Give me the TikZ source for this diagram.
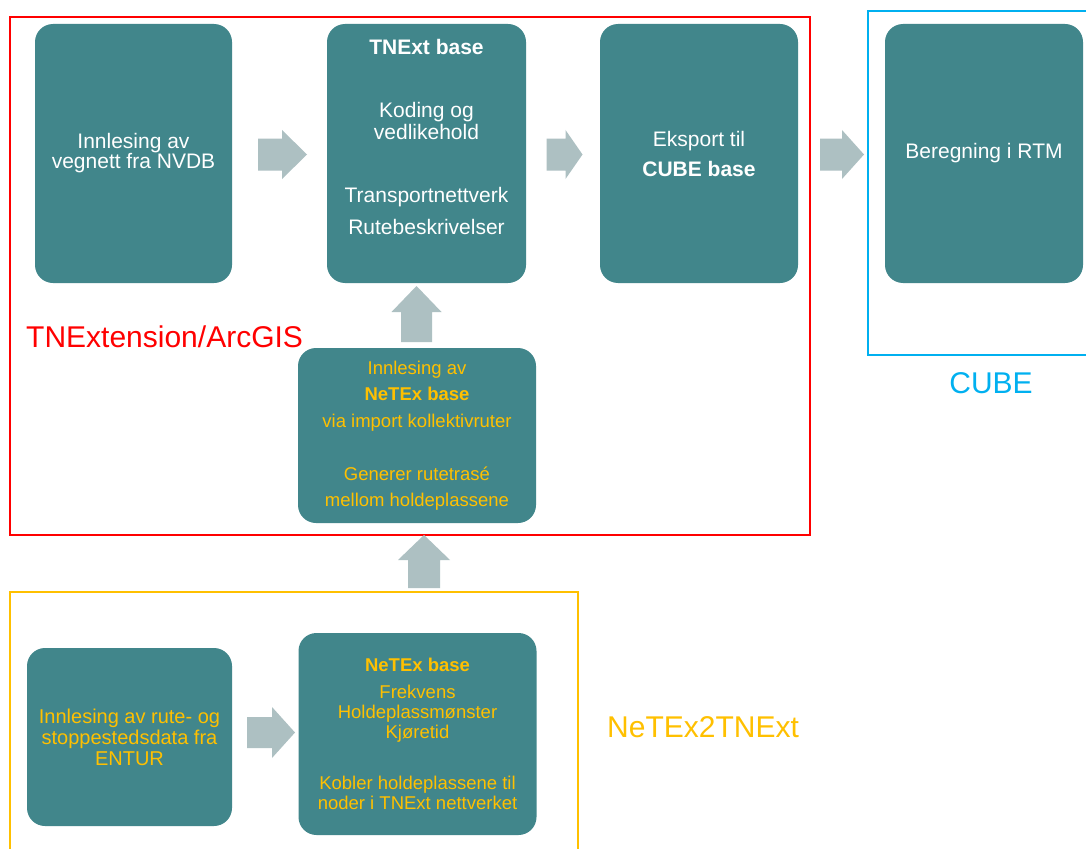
\documentclass[tikz,border=0pt]{standalone}
\usepackage{fontspec}
\setmainfont{Liberation Sans}
\definecolor{teal1}{HTML}{41868B}
\definecolor{agray}{HTML}{ADC0C2}
\definecolor{fred}{HTML}{FF0000}
\definecolor{fblue}{HTML}{00B0F0}
\definecolor{fyellow}{HTML}{FFC000}
\tikzset{
  box/.style={draw=none, fill=teal1, rounded corners=18pt, inner sep=0pt, align=center, text=white},
  ybox/.style={box, text=fyellow},
  frame/.style={line width=2.6pt},
  biglabel/.style={font=\fontsize{30}{32}\selectfont, inner sep=0pt},
}
% block arrow: #1 centre, #2 rotation, #3 length, #4 head length, #5 head width, #6 shaft width
\newcommand\blockarrow[6]{%
  \begin{scope}[shift={#1}, rotate=#2]
    \fill[agray] (-#3/2,-#6/2) -- (#3/2-#4,-#6/2) -- (#3/2-#4,-#5/2) -- (#3/2,0)
      -- (#3/2-#4,#5/2) -- (#3/2-#4,#6/2) -- (-#3/2,#6/2) -- cycle;
  \end{scope}}
\begin{document}
\begin{tikzpicture}[x=1pt,y=-1pt]
\useasboundingbox (0,0) rectangle (1086,848);
\fill[white] (0,0) rectangle (1086,848);

% frames
\draw[frame, fred] (10,17) rectangle (810,535);
\draw[frame, fblue] (1095,11) -- (868,11) -- (868,355) -- (1095,355);
\draw[frame, fyellow] (10,860) -- (10,592) -- (578,592) -- (578,860);

% top row
\node[box, minimum width=197pt, minimum height=259pt, font=\fontsize{21}{20}\selectfont]
  (b1) at (133.5,153.5) {Innlesing av\\vegnett fra NVDB};
\node[box, minimum width=199pt, minimum height=259pt] (b2) at (426.5,153.5) {};
\node[align=center, text=white, inner sep=0pt, font=\fontsize{21}{22}\selectfont, anchor=north]
  (b2t) at (426.5,39) {\textbf{TNExt base}\\[41pt]Koding og\\vedlikehold\\[41pt]Transportnettverk\\[10pt]Rutebeskrivelser};
\node[box, minimum width=198pt, minimum height=259pt, font=\fontsize{21}{30}\selectfont]
  (b3) at (699,153.5) {Eksport til\\\textbf{CUBE base}};
\node[box, minimum width=198pt, minimum height=259pt, font=\fontsize{21}{22}\selectfont]
  (b4) at (984,153.5) {Beregning i RTM};

% middle box
\node[ybox, minimum width=238pt, minimum height=175pt, font=\fontsize{18.5}{26.5}\selectfont]
  (m) at (417,435.5) {Innlesing av\\\textbf{NeTEx base}\\via import kollektivruter\\[26.5pt]Generer rutetrasé\\mellom holdeplassene};

% bottom row
\node[ybox, minimum width=205pt, minimum height=178pt, font=\fontsize{20}{21}\selectfont]
  (e) at (129.5,737) {Innlesing av rute- og\\stoppestedsdata fra\\ENTUR};
\node[ybox, minimum width=238pt, minimum height=202pt, font=\fontsize{18.5}{20}\selectfont]
  (n) at (417.5,734) {\textbf{NeTEx base}\\[7pt]Frekvens\\Holdeplassmønster\\Kjøretid\\[31pt]Kobler holdeplassene til\\noder i TNExt nettverket};

% block arrows
\blockarrow{(282.5,154.5)}{0}{49}{25}{49}{32}
\blockarrow{(564.5,154.5)}{0}{36}{17}{49}{32}
\blockarrow{(842,154.5)}{0}{44}{22}{49}{32}
\blockarrow{(416.5,314)}{90}{56}{26}{50}{31}
\blockarrow{(424,561.5)}{90}{53}{25}{52}{32}
\blockarrow{(271,732.5)}{0}{48}{23}{51}{31}

% labels
\node[biglabel, text=fred, anchor=west] (lt) at (26,337) {TNExtension/ArcGIS};
\node[biglabel, text=fblue] (lc) at (991,383) {CUBE};
\node[biglabel, text=fyellow, anchor=west] (ln) at (607,727) {NeTEx2TNExt};
\end{tikzpicture}
\end{document}
